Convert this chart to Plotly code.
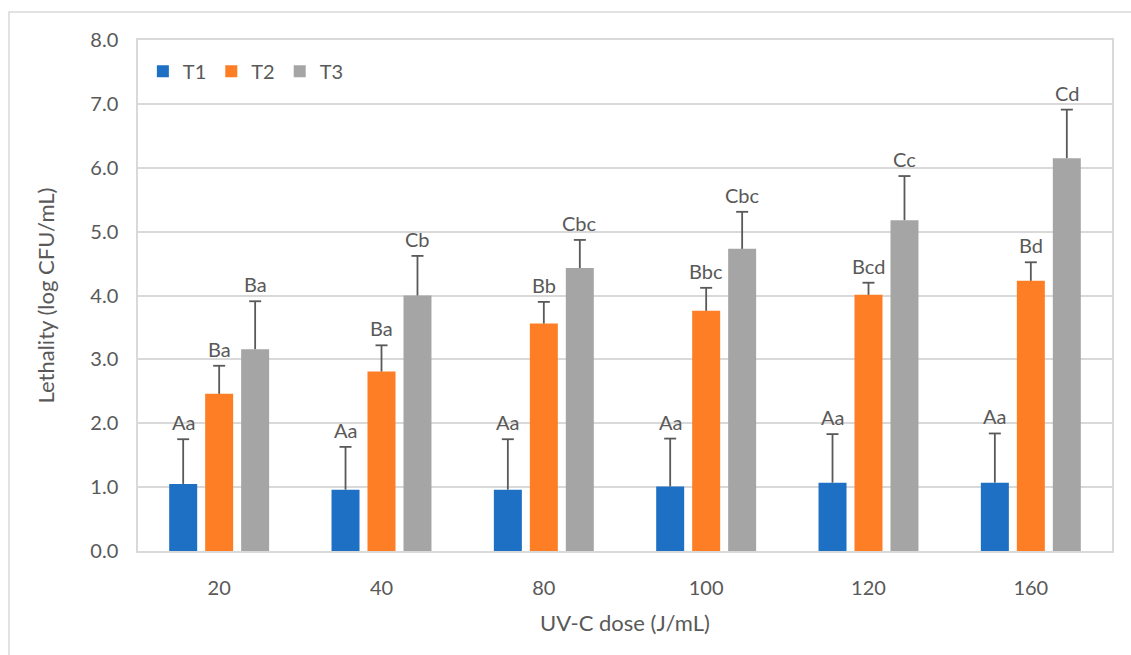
import plotly.graph_objects as go

doses = ["20", "40", "80", "100", "120", "160"]

t1_mean = [1.05, 0.96, 0.96, 1.01, 1.07, 1.07]
t1_err = [0.70, 0.67, 0.79, 0.75, 0.76, 0.77]
t1_lbl = ["Aa", "Aa", "Aa", "Aa", "Aa", "Aa"]

t2_mean = [2.46, 2.81, 3.56, 3.76, 4.01, 4.23]
t2_err = [0.44, 0.41, 0.34, 0.36, 0.19, 0.29]
t2_lbl = ["Ba", "Ba", "Bb", "Bbc", "Bcd", "Bd"]

t3_mean = [3.16, 4.00, 4.43, 4.73, 5.18, 6.15]
t3_err = [0.75, 0.62, 0.44, 0.58, 0.69, 0.76]
t3_lbl = ["Ba", "Cb", "Cbc", "Cbc", "Cc", "Cd"]

series = [
    ("T1", t1_mean, t1_err, t1_lbl, "#1D70C4"),
    ("T2", t2_mean, t2_err, t2_lbl, "#FD7E24"),
    ("T3", t3_mean, t3_err, t3_lbl, "#A5A5A5"),
]

FONT = "Lato"
TXT = "#595959"
GRID = "#D9D9D9"
BAR_STEP = 36  # pixel distance between bar centres inside a group

fig = go.Figure()
for name, mean, err, lbl, color in series:
    fig.add_trace(go.Bar(
        name=name, x=doses, y=mean, marker=dict(color=color, line=dict(width=0)),
        error_y=dict(type="data", array=err, arrayminus=[0] * len(err), symmetric=False,
                     color=TXT, thickness=1.8, width=0),
    ))

for i, (name, mean, err, lbl, color) in enumerate(series):
    off = (i - 1) * BAR_STEP
    for j in range(len(doses)):
        top = mean[j] + err[j]
        # cap on the upper end of the error bar only
        fig.add_shape(type="line", xref="x", yref="y", xsizemode="pixel", xanchor=j,
                      x0=off - 6, x1=off + 6, y0=top, y1=top,
                      line=dict(color=TXT, width=1.8))
        # significance letters
        fig.add_annotation(
            x=j, y=top, text=lbl[j], showarrow=False,
            xref="x", yref="y", yanchor="bottom", yshift=3, xshift=off,
            font=dict(family=FONT, size=20, color=TXT),
        )

fig.update_layout(
    width=1131, height=655,
    margin=dict(l=138, r=19, t=40, b=104),
    paper_bgcolor="white", plot_bgcolor="white",
    barmode="group", bargap=0.335, bargroupgap=0.222,
    font=dict(family=FONT, size=20, color=TXT),
    legend=dict(orientation="h", x=0.005, y=0.977, xanchor="left", yanchor="top",
                font=dict(family=FONT, size=20, color=TXT), bgcolor="rgba(0,0,0,0)",
                itemwidth=30, traceorder="normal"),
    showlegend=True,
)
fig.update_xaxes(
    type="category", showgrid=False, showline=True, linecolor=GRID, linewidth=1.5, mirror=True,
    ticks="", tickfont=dict(family=FONT, size=20, color=TXT), ticklabelstandoff=18,
    title=dict(text="UV-C dose (J/mL)", font=dict(family=FONT, size=22, color=TXT), standoff=18),
)
fig.update_yaxes(
    range=[0, 8], dtick=1, tickformat=".1f", showgrid=True, gridcolor=GRID, gridwidth=1.5,
    showline=True, linecolor=GRID, linewidth=1.5, mirror=True, zeroline=False,
    ticks="", tickfont=dict(family=FONT, size=20, color=TXT), ticklabelstandoff=14,
    title=dict(text="Lethality (log CFU/mL)", font=dict(family=FONT, size=22, color=TXT), standoff=30),
)

# outer chart frame
fig.add_shape(type="rect", xref="paper", yref="paper",
              x0=(9 - 138) / 974, x1=1.05, y0=-0.3, y1=1 + (40 - 12) / 511,
              line=dict(color=GRID, width=1.5), fillcolor="rgba(0,0,0,0)", layer="below")

fig.write_html("out.html")
